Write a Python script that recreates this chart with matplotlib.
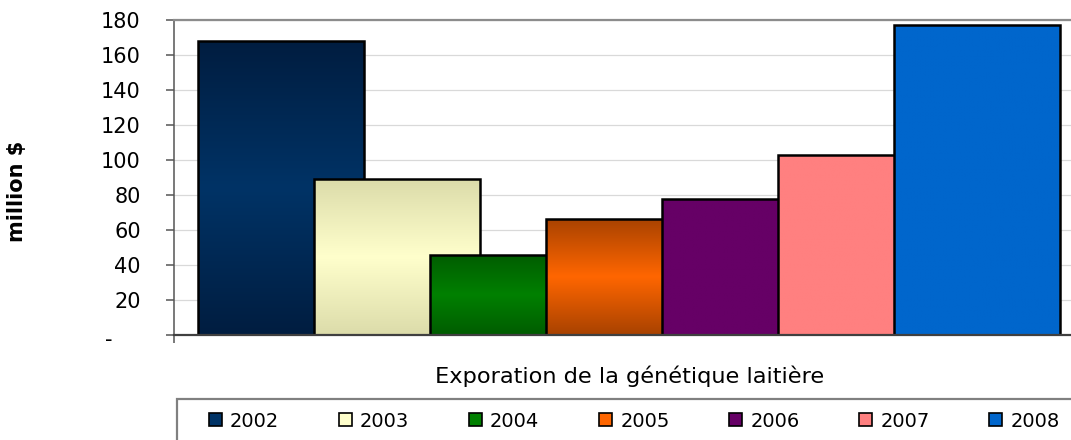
import numpy as np
import matplotlib
matplotlib.use("Agg")
import matplotlib.pyplot as plt
from matplotlib.patches import Rectangle, Patch
from matplotlib.colors import LinearSegmentedColormap
from matplotlib.transforms import ScaledTranslation

# ---- data ----
years = ["2002", "2003", "2004", "2005", "2006", "2007", "2008"]
values = [168, 89, 46, 66.5, 78, 103, 177.5]
edge_colors = ["#011D40", "#DCDCAA", "#005C00", "#A84200", "#660066", "#FF8080", "#0066CC"]
mid_colors = ["#003366", "#FFFFCC", "#008000", "#FF6600", "#660066", "#FF8080", "#0066CC"]
yticks = [0, 20, 40, 60, 80, 100, 120, 140, 160, 180]
ytick_labels = ["-", "20", "40", "60", "80", "100", "120", "140", "160", "180"]
xlabel = "Exporation de la génétique laitière"
ylabel = "million $"

W, H = 1071, 440
fig = plt.figure(figsize=(W / 100, H / 100), dpi=100)

# axes geometry (pixels)
ax_left, ax_bottom, ax_top = 174, 335, 20.5
step_px = 115.95
bar_w = 166 / step_px
first_left_px = 198.3
x0 = -bar_w / 2 - (first_left_px - ax_left) / step_px
x1 = (len(years) - 1) - x0
ax_right = ax_left + (x1 - x0) * step_px
ax = fig.add_axes([ax_left / W, (H - ax_bottom) / H, (ax_right - ax_left) / W, (ax_bottom - ax_top) / H])

xpos = np.arange(len(years))
bars = ax.bar(xpos, values, width=bar_w, facecolor="none", edgecolor="black", linewidth=1.8)
grad = np.abs(np.linspace(-1, 1, 256)).reshape(-1, 1)
for i, b in enumerate(bars):
    b.set_zorder(3 + 2 * i + 1)
    cmap = LinearSegmentedColormap.from_list("g%d" % i, [mid_colors[i], edge_colors[i]])
    bx, by = b.get_x(), b.get_y()
    im = ax.imshow(grad, extent=[bx, bx + b.get_width(), by, by + b.get_height()],
                   aspect="auto", cmap=cmap, vmin=0, vmax=1, zorder=3 + 2 * i,
                   interpolation="bilinear", origin="upper")
    im.set_clip_path(b)

ax.set_xlim(x0, x1)
ax.set_ylim(0, 180)
ax.set_yticks(yticks)
ax.set_yticklabels(ytick_labels, fontsize=15, family="DejaVu Sans", color="black")
ax.set_xticks([x0])
ax.set_xticklabels([""])
ax.tick_params(axis="y", direction="out", length=6, width=1.1, color="#555555", pad=18)
ax.tick_params(axis="x", direction="out", length=6, width=1.1, color="#555555")
ax.yaxis.grid(True, color="#D9D9D9", linewidth=0.9, zorder=0)
ax.set_axisbelow(True)
ax.spines["right"].set_visible(False)
ax.spines["top"].set_color("#8C8C8C")
ax.spines["top"].set_linewidth(1.6)
ax.spines["left"].set_color("#555555")
ax.spines["left"].set_linewidth(1.1)
ax.spines["bottom"].set_color("#404040")
ax.spines["bottom"].set_linewidth(1.6)
ax.spines["bottom"].set_zorder(30)

# shift the "-" label as in the reference
lbl0 = ax.get_yticklabels()[0]
lbl0.set_transform(lbl0.get_transform() + ScaledTranslation(-0.28, -0.03, fig.dpi_scale_trans))

fig.text(17.5 / W, (H - 191) / H, ylabel, rotation=90, ha="center", va="center",
         fontsize=15, fontweight="bold", family="DejaVu Sans")
fig.text(630 / W, (H - 383) / H, xlabel, ha="center", va="baseline", fontsize=16.2,
         family="DejaVu Sans")

# legend frame
fig.patches.append(Rectangle((177 / W, -0.1), 1.2, (H - 399) / H + 0.1, transform=fig.transFigure,
                             facecolor="none", edgecolor="#808080", linewidth=1.6))
handles = [Patch(facecolor=mid_colors[i], edgecolor="black", linewidth=1.2) for i in range(len(years))]
fs = 14
em = fs * 100 / 72
leg = fig.legend(handles, years, loc="center left", bbox_to_anchor=(209 / W, (H - 421) / H),
                 ncol=7, frameon=False, fontsize=fs, handlelength=13 / em, handleheight=13 / em,
                 handletextpad=8 / em, columnspacing=(130.2 - 13 - 8 - 49.4) / em,
                 borderpad=0, borderaxespad=0)
for t in leg.get_texts():
    t.set_family("DejaVu Sans")

fig.savefig("out.png", dpi=100)
